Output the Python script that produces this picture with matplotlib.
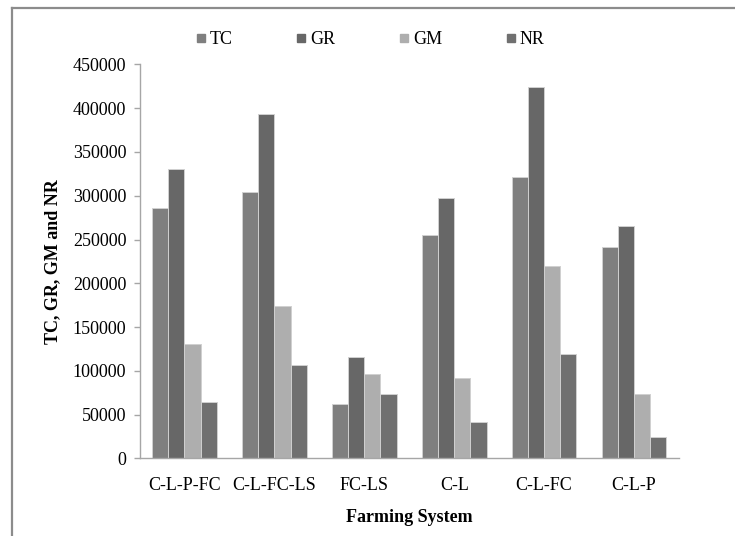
import numpy as np
import matplotlib.pyplot as plt
from matplotlib.lines import Line2D

systems = ["C-L-P-FC", "C-L-FC-LS", "FC-LS", "C-L", "C-L-FC", "C-L-P"]
tc = [286000, 304000, 62000, 255000, 321000, 241000]
gr = [330000, 393000, 116000, 297500, 424500, 265000]
gm = [131000, 174500, 96000, 91500, 219500, 73500]
nr = [65000, 106500, 74000, 42000, 119000, 24500]

series = [tc, gr, gm, nr]
labels = ["TC", "GR", "GM", "NR"]
colors = ["#7f7f7f", "#676767", "#aeaeae", "#707070"]

plt.rcParams['font.family'] = ['Liberation Serif', 'DejaVu Serif']

fig = plt.figure(figsize=(7.35, 5.36), dpi=100)
ax = fig.add_axes([0.1898, 0.1446, 0.734, 0.7354])

x = np.arange(len(systems))
w = 0.18
for i in range(len(series)):
    ax.bar(x + (i - 1.5) * w, series[i], width=w, color=colors[i],
           edgecolor="#d0d0d0", linewidth=0.7, zorder=2)

ax.set_xlim(-0.5, len(systems) - 0.5)
ax.set_ylim(0, 450000)
ax.set_yticks(np.arange(0, 450001, 50000))
ax.set_xticks(x)
ax.set_xticklabels(systems)

for s in ["top", "right"]:
    ax.spines[s].set_visible(False)
for s in ["left", "bottom"]:
    ax.spines[s].set_color("#a6a6a6")
    ax.spines[s].set_linewidth(1.0)

ax.tick_params(axis="y", length=4.5, width=1.0, color="#a6a6a6", pad=5, labelsize=13)
ax.tick_params(axis="x", length=0, pad=13, labelsize=13)

ax.set_ylabel("TC, GR, GM and NR", fontsize=13, fontweight="bold", labelpad=8)
ax.set_xlabel("Farming System", fontsize=13, fontweight="bold", labelpad=11)

handles = [Line2D([], [], marker="s", linestyle="none", markersize=6,
                  markerfacecolor=c, markeredgecolor=c) for c in colors]
fig.legend(handles, labels, loc="center", bbox_to_anchor=(370 / 735, 1 - 40 / 536),
           ncol=4, frameon=False, fontsize=13, handlelength=0.6,
           handletextpad=0.2, columnspacing=3.5)

# outer frame, only top and left edges show in the original crop
top = 1 - 8.3 / 536
left = 11.7 / 735
fig.add_artist(Line2D([left, 1.0], [top, top], transform=fig.transFigure,
                      color="#8c8c8c", linewidth=1.6))
fig.add_artist(Line2D([left, left], [0.0, top], transform=fig.transFigure,
                      color="#8c8c8c", linewidth=1.6))

fig.savefig("out.png", dpi=100)
